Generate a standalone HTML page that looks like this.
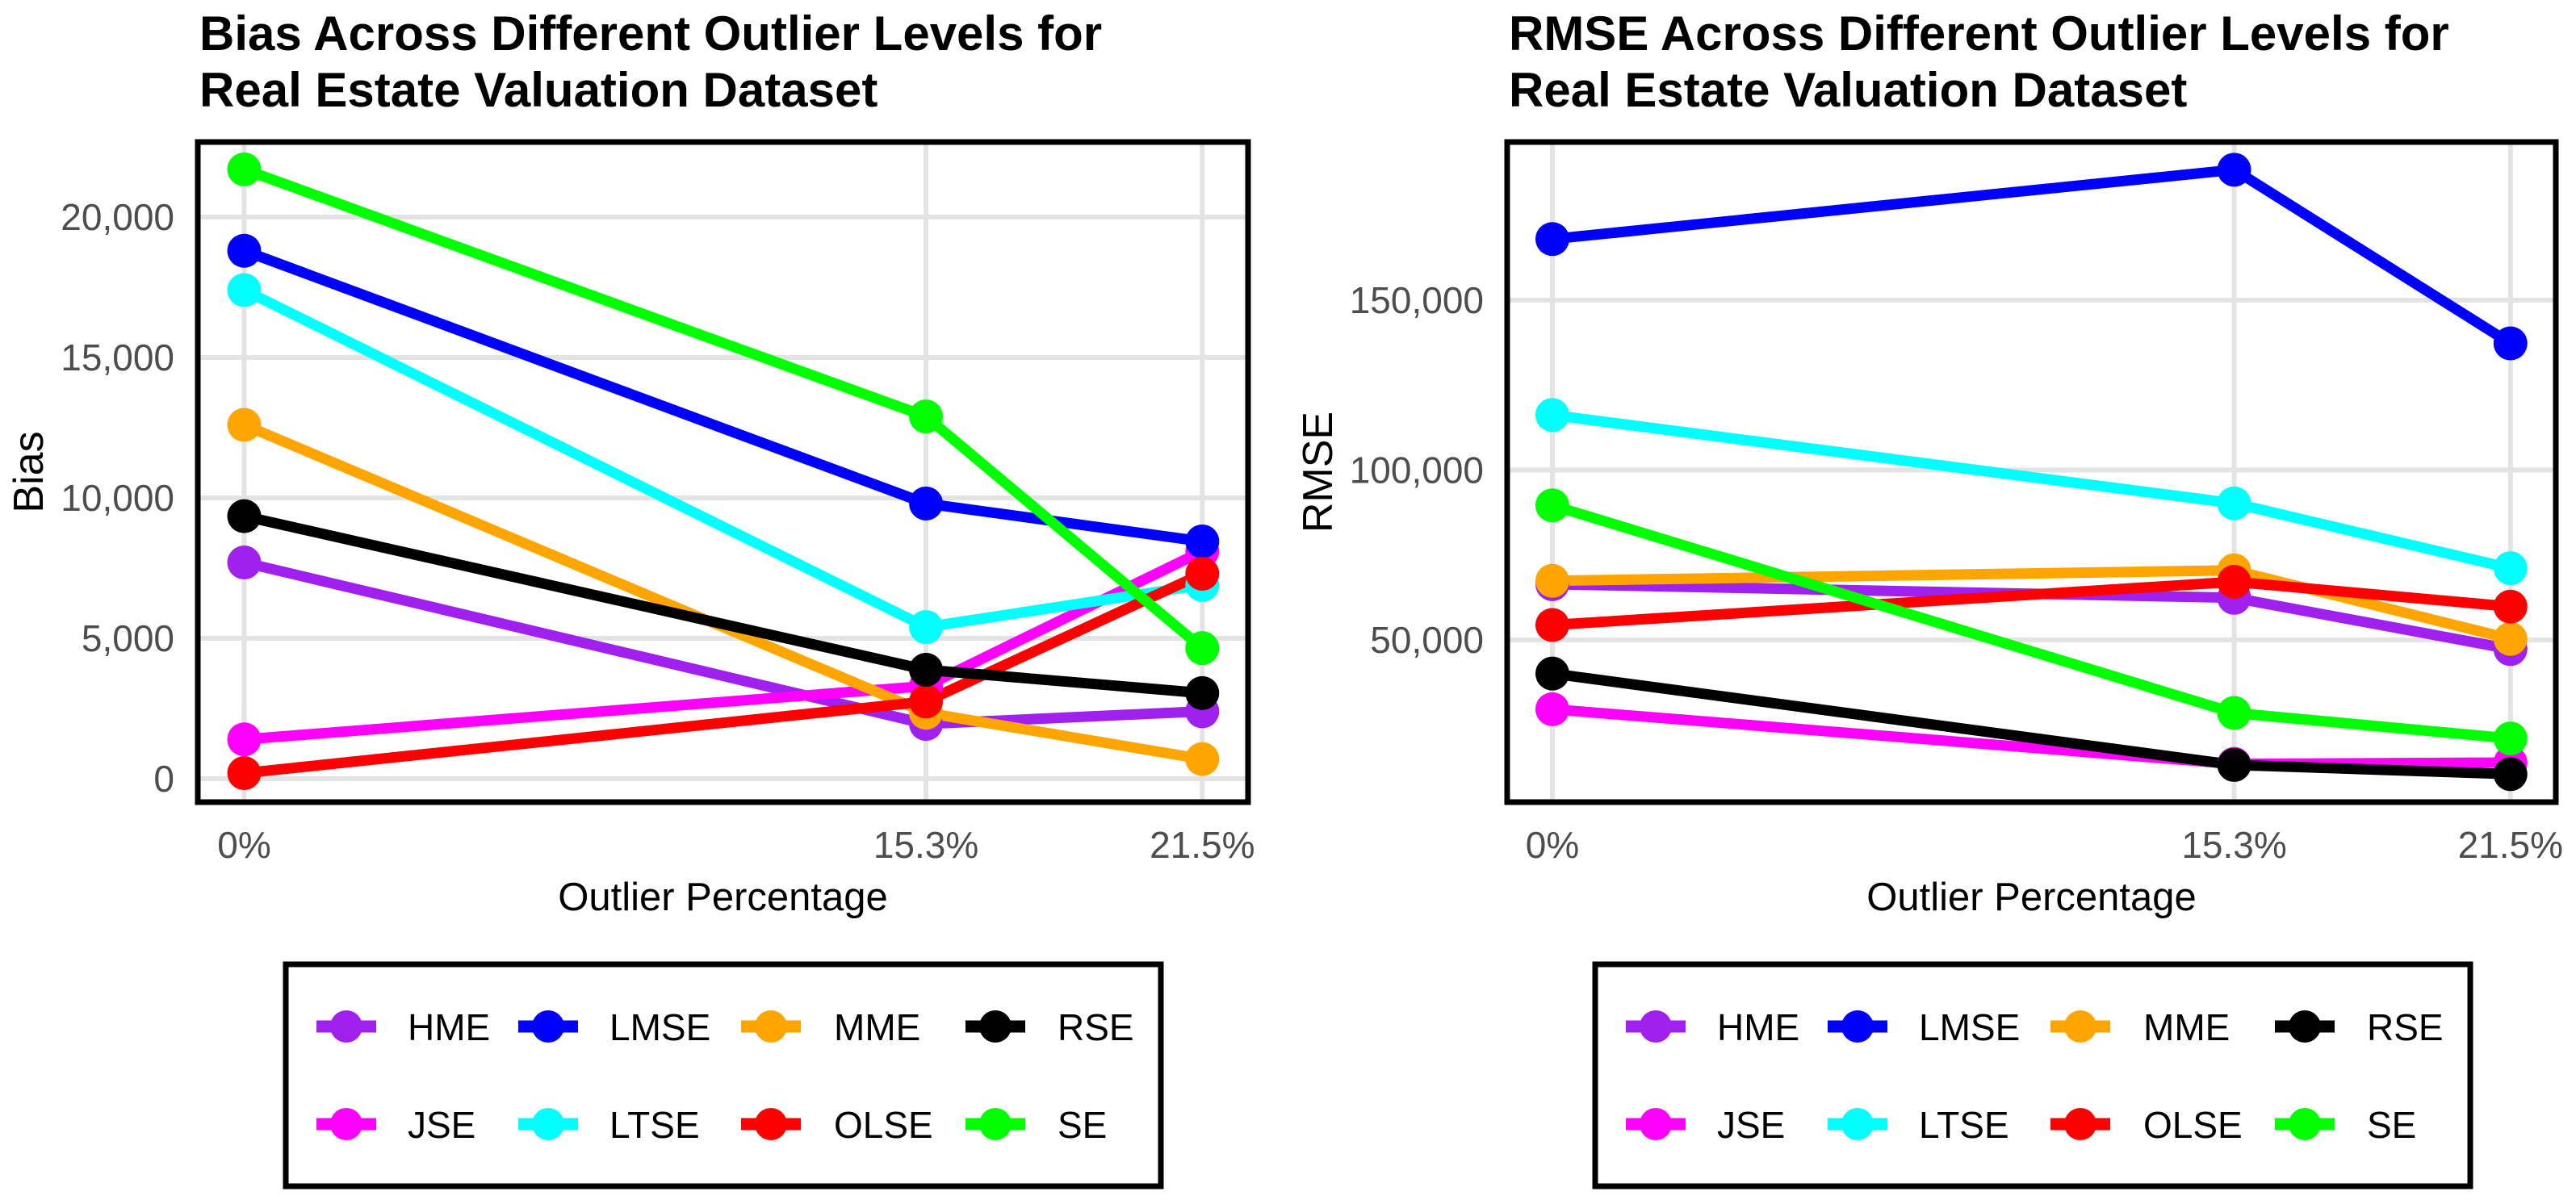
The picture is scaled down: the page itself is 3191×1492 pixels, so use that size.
<!DOCTYPE html>
<html><head><meta charset="utf-8"><style>
html,body{margin:0;padding:0;background:#fff;}
svg{display:block;font-family:"Liberation Sans",Arial,sans-serif;}
</style></head><body>
<svg id="chart" width="3191" height="1492" viewBox="0 0 3191 1492" xmlns="http://www.w3.org/2000/svg">
<rect x="0" y="0" width="3191" height="1492" fill="#fff"/>
</svg>
<script>
const categories = [0, 15.3, 21.5];
const categoryLabels = ["0%", "15.3%", "21.5%"];
const seriesNames = ["HME","JSE","LMSE","LTSE","MME","OLSE","RSE","SE"];
const biasHME  = [7700, 1950, 2400];
const biasJSE  = [1400, 3300, 8100];
const biasLMSE = [18800, 9800, 8450];
const biasLTSE = [17400, 5400, 6900];
const biasMME  = [12600, 2350, 700];
const biasOLSE = [200, 2750, 7300];
const biasRSE  = [9350, 3880, 3050];
const biasSE   = [21700, 12900, 4650];
const rmseHME  = [66400, 62400, 47300];
const rmseJSE  = [29600, 13500, 13900];
const rmseLMSE = [168000, 188400, 137300];
const rmseLTSE = [116200, 90200, 71100];
const rmseMME  = [67400, 70500, 50300];
const rmseOLSE = [54400, 67100, 59800];
const rmseRSE  = [40100, 13200, 10500];
const rmseSE   = [89600, 28500, 21000];
const biasTicks = [0, 5000, 10000, 15000, 20000];
const biasTickLabels = ["0", "5,000", "10,000", "15,000", "20,000"];
const rmseTicks = [50000, 100000, 150000];
const rmseTickLabels = ["50,000", "100,000", "150,000"];

const colors = {HME:"#A020F0",JSE:"#FF00FF",LMSE:"#0000FF",LTSE:"#00FFFF",MME:"#FFA500",OLSE:"#FF0000",RSE:"#000000",SE:"#00FF00"};
const legendOrder = [["HME","LMSE","MME","RSE"],["JSE","LTSE","OLSE","SE"]];
const NS = "http://www.w3.org/2000/svg";
const svg = document.getElementById("chart");
function mk(tag, attrs, parent){
  const e = document.createElementNS(NS, tag);
  for (const k in attrs) e.setAttribute(k, attrs[k]);
  (parent||svg).appendChild(e);
  return e;
}
function txt(s, attrs, parent){ const e = mk("text", attrs, parent); e.textContent = s; return e; }

function panel(cfg){
  const g = mk("g", {});
  
  
  const xS = v => cfg.x0 + v * cfg.xk;
  const yS = v => cfg.y0 - (v - cfg.yBase) * cfg.yk;
  // title
  const t1 = txt(cfg.title1, {x: cfg.left + 2, y: 62, "font-size": 60, "font-weight": "bold", fill: "#000"}, g);
  
  
  const t2 = txt(cfg.title2, {x: cfg.left + 2, y: 132, "font-size": 60, "font-weight": "bold", fill: "#000"}, g);
  
  
  // grid
  cfg.ticks.forEach((tv, i) => {
    const gl = mk("line", {x1: cfg.left, x2: cfg.right, y1: yS(tv), y2: yS(tv), stroke: "#E3E3E3", "stroke-width": 6}, g);
    
    
    const tl = txt(cfg.tickLabels[i], {x: cfg.left - 29, y: yS(tv) + 16, "font-size": 46, fill: "#4D4D4D", "text-anchor": "end"}, g);
    
    
  });
  categories.forEach((c, i) => {
    const gl = mk("line", {x1: xS(c), x2: xS(c), y1: cfg.top, y2: cfg.bottom, stroke: "#E3E3E3", "stroke-width": 6}, g);
    
    
    const tl = txt(categoryLabels[i], {x: xS(c), y: 1063, "font-size": 46, fill: "#4D4D4D", "text-anchor": "middle"}, g);
    
    
  });
  // lines
  seriesNames.forEach(n => {
    const vals = cfg.data[n];
    const pts = vals.map((v, i) => xS(categories[i]) + "," + yS(v)).join(" ");
    const pl = mk("polyline", {points: pts, fill: "none", stroke: colors[n], "stroke-width": 13, "stroke-linejoin": "round"}, g);
    
    
  });
  seriesNames.forEach(n => {
    cfg.data[n].forEach((v, i) => {
      const c = mk("circle", {cx: xS(categories[i]), cy: yS(v), r: 21, fill: colors[n]}, g);
      
      
    });
  });
  // frame
  const fr = mk("rect", {x: cfg.left, y: cfg.top, width: cfg.right - cfg.left, height: cfg.bottom - cfg.top, fill: "none", stroke: "#000", "stroke-width": 7}, g);
  
  
  // axis titles
  const xt = txt("Outlier Percentage", {x: (cfg.left + cfg.right) / 2, y: 1128, "font-size": 49, fill: "#000", "text-anchor": "middle"}, g);
  
  
  const yt = txt(cfg.ytitle, {x: 0, y: 0, "font-size": 52, fill: "#000", "text-anchor": "middle", transform: "translate(" + cfg.yTitleX + "," + ((cfg.top + cfg.bottom) / 2) + ") rotate(-90)"}, g);
  
  
  // legend
  const lg = mk("g", {}, g);
  
  
  const lb = mk("rect", {x: cfg.legX, y: 1195, width: 1084, height: 275, fill: "#fff", stroke: "#000", "stroke-width": 7}, lg);
  
  
  const keyOff = [75, 325, 601, 879];
  const labOff = [151, 401, 679, 956];
  const rowY = [1272, 1393];
  legendOrder.forEach((row, r) => row.forEach((n, c) => {
    const e = mk("g", {}, lg);
    
    
    const kx = cfg.legX + keyOff[c];
    mk("line", {x1: kx - 37, x2: kx + 37, y1: rowY[r], y2: rowY[r], stroke: colors[n], "stroke-width": 15}, e);
    mk("circle", {cx: kx, cy: rowY[r], r: 20, fill: colors[n]}, e);
    txt(n, {x: cfg.legX + labOff[c], y: rowY[r] + 17, "font-size": 46, fill: "#000"}, e);
  }));
}

panel({name: "bias", left: 245, right: 1546, top: 176, bottom: 994,
  x0: 302.5, xk: 55.2, y0: 965, yBase: 0, yk: 0.0348,
  ticks: biasTicks, tickLabels: biasTickLabels, ytitle: "Bias", yTitleX: 53, legX: 354,
  title1: "Bias Across Different Outlier Levels for", title2: "Real Estate Valuation Dataset",
  data: {HME: biasHME, JSE: biasJSE, LMSE: biasLMSE, LTSE: biasLTSE, MME: biasMME, OLSE: biasOLSE, RSE: biasRSE, SE: biasSE}});
panel({name: "rmse", left: 1867, right: 3166, top: 176, bottom: 994,
  x0: 1923, xk: 55.2, y0: 793, yBase: 50000, yk: 0.00421,
  ticks: rmseTicks, tickLabels: rmseTickLabels, ytitle: "RMSE", yTitleX: 1650, legX: 1976,
  title1: "RMSE Across Different Outlier Levels for", title2: "Real Estate Valuation Dataset",
  data: {HME: rmseHME, JSE: rmseJSE, LMSE: rmseLMSE, LTSE: rmseLTSE, MME: rmseMME, OLSE: rmseOLSE, RSE: rmseRSE, SE: rmseSE}});
</script>
</body></html>
